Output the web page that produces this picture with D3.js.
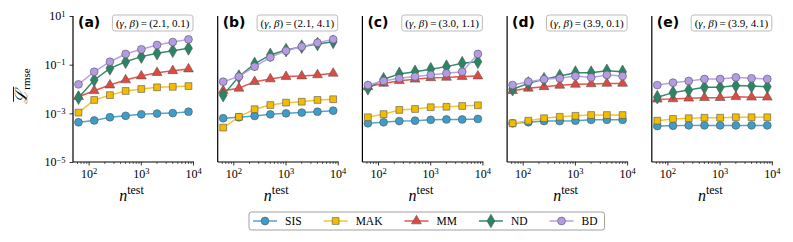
<!DOCTYPE html>
<html>
<head>
<meta charset="utf-8">
<script src="https://cdn.jsdelivr.net/npm/d3@7"></script>
<style>
  body { margin: 0; background: #fff; }
  svg { display: block; }
</style>
</head>
<body>
<div id="chart"></div>
<script>
// sample sizes on the x axis
var nTest = [64, 128, 256, 512, 1024, 2048, 4096, 8192];
var methods = ["SIS", "MAK", "MM", "ND", "BD"];
var panelLetters = ["(a)", "(b)", "(c)", "(d)", "(e)"];
var panelGamma = ["2.1", "2.1", "3.0", "3.9", "3.9"];
var panelBeta = ["0.1", "4.1", "1.1", "0.1", "4.1"];
var xTicks = [100, 1000, 10000];
var yTicks = [1e-5, 1e-3, 1e-1, 10];

// values, one array per method and panel
var sisVals = [
  [4.3e-4, 5.1e-4, 6.9e-4, 7.9e-4, 9.1e-4, 9.8e-4, 1.02e-3, 1.17e-3],
  [6.3e-4, 6.9e-4, 7.8e-4, 9.1e-4, 1.0e-3, 1.07e-3, 1.17e-3, 1.29e-3],
  [3.9e-4, 4.3e-4, 4.8e-4, 5.0e-4, 5.4e-4, 5.6e-4, 5.6e-4, 5.9e-4],
  [3.9e-4, 4.3e-4, 4.8e-4, 4.8e-4, 5.0e-4, 5.4e-4, 5.4e-4, 5.4e-4],
  [3.0e-4, 3.1e-4, 3.2e-4, 3.2e-4, 3.2e-4, 3.2e-4, 3.2e-4, 3.2e-4]
];
var makVals = [
  [1.07e-3, 3.55e-3, 5.6e-3, 8.3e-3, 1.0e-2, 1.17e-2, 1.23e-2, 1.32e-2],
  [2.6e-4, 7.2e-4, 1.48e-3, 2.19e-3, 2.75e-3, 3.0e-3, 3.55e-3, 3.8e-3],
  [6.9e-4, 9.3e-4, 1.38e-3, 1.51e-3, 1.78e-3, 1.86e-3, 2.0e-3, 2.14e-3],
  [3.9e-4, 5.0e-4, 6.3e-4, 7.2e-4, 7.9e-4, 8.5e-4, 8.5e-4, 8.5e-4],
  [5.0e-4, 5.9e-4, 6.3e-4, 6.6e-4, 6.6e-4, 6.9e-4, 6.9e-4, 6.9e-4]
];
var mmVals = [
  [4.8e-3, 8.5e-3, 1.45e-2, 2.34e-2, 3.4e-2, 4.7e-2, 5.6e-2, 6.6e-2],
  [8.5e-3, 1.07e-2, 2.0e-2, 2.57e-2, 3.24e-2, 3.4e-2, 3.8e-2, 4.4e-2],
  [1.23e-2, 1.7e-2, 2.19e-2, 2.51e-2, 2.88e-2, 3.0e-2, 3.24e-2, 3.4e-2],
  [8.5e-3, 1.07e-2, 1.23e-2, 1.41e-2, 1.55e-2, 1.62e-2, 1.7e-2, 1.7e-2],
  [3.8e-3, 3.9e-3, 4.17e-3, 4.4e-3, 4.4e-3, 4.8e-3, 4.6e-3, 4.6e-3]
];
var ndVals = [
  [4.4e-3, 2.34e-2, 7.1e-2, 0.132, 0.214, 0.295, 0.372, 0.468],
  [5.6e-3, 3.24e-2, 0.107, 0.251, 0.398, 0.55, 0.708, 0.871],
  [1.07e-2, 2.51e-2, 4.17e-2, 5.1e-2, 6.5e-2, 8.3e-2, 0.115, 0.132],
  [9.8e-3, 1.7e-2, 2.51e-2, 3.4e-2, 4.7e-2, 4.7e-2, 5.6e-2, 5.1e-2],
  [4.6e-3, 7.1e-3, 9.1e-3, 1.17e-2, 1.17e-2, 1.38e-2, 1.32e-2, 1.23e-2]
];
var bdVals = [
  [1.55e-2, 5.1e-2, 0.132, 0.275, 0.427, 0.646, 0.851, 1.096],
  [2.0e-2, 3.24e-2, 8.3e-2, 0.2, 0.372, 0.55, 0.794, 1.096],
  [1.45e-2, 2.14e-2, 2.75e-2, 3.24e-2, 3.8e-2, 4.4e-2, 5.1e-2, 0.275],
  [1.45e-2, 2.0e-2, 2.51e-2, 2.75e-2, 3.4e-2, 3.0e-2, 3.8e-2, 3.4e-2],
  [1.45e-2, 1.82e-2, 2.14e-2, 2.57e-2, 2.57e-2, 3.0e-2, 2.75e-2, 2.57e-2]
];

var seriesVals = [sisVals, makVals, mmVals, ndVals, bdVals];
var lineColors = ["#4ea6d2", "#f5c431", "#e8554e", "#2f8c6e", "#b9a0ea"];
var fillColors = ["#3d9cc9", "#f2bd00", "#de4a40", "#2a8565", "#b49be6"];
var symbols = [d3.symbolCircle, d3.symbolSquare, d3.symbolTriangle, d3.symbolDiamond, d3.symbolCircle];
var symSizes = [48, 46, 42, 54, 48];

var W = 793, H = 242;
var plotW = 121, plotTop = 16, plotBottom = 162;
var panelStep = 144.7, firstLeft = 73;

var svg = d3.select("#chart").append("svg")
    .attr("width", W).attr("height", H);

var x = d3.scaleLog().domain([Math.pow(10, 1.701), Math.pow(10, 4.019)]).range([0, plotW]);
var y = d3.scaleLog().domain([1e-5, 10]).range([plotBottom, plotTop]);

var serif = "'Liberation Serif', 'DejaVu Serif', serif";

function supLabel(sel, exp) {
  sel.text(null);
  sel.append("tspan").text("10");
  sel.append("tspan").attr("dy", "-0.45em").attr("font-size", "8.5px").text(exp);
}

var minorX = [];
[10, 100, 1000].forEach(function(d) {
  for (var k = 2; k <= 9; k++) minorX.push(d * k);
});
minorX = minorX.filter(function(v) { return v >= x.domain()[0] && v <= x.domain()[1]; });

panelLetters.forEach(function(letter, p) {
  var g = svg.append("g")
      .attr("transform", "translate(" + (firstLeft + p * panelStep) + ",0)");

  // minor x ticks
  g.append("g")
      .attr("transform", "translate(0," + plotBottom + ")")
      .call(d3.axisBottom(x).tickValues(minorX).tickSize(2).tickFormat(""))
      .call(function(a) { a.select(".domain").remove(); })
      .selectAll("line").attr("stroke-width", 0.6);

  var xa = g.append("g")
      .attr("transform", "translate(0," + plotBottom + ")")
      .call(d3.axisBottom(x).tickValues(xTicks).tickSize(3.5).tickPadding(4));
  xa.select(".domain").remove();
  xa.selectAll("line").attr("stroke-width", 0.8);
  xa.selectAll("text")
      .attr("font-family", serif).attr("font-size", "12px")
      .each(function(d) { supLabel(d3.select(this), Math.round(Math.log10(d))); });

  // spines
  g.append("line").attr("x1", 0).attr("x2", plotW).attr("y1", plotBottom).attr("y2", plotBottom)
      .attr("stroke", "#000").attr("stroke-width", 1.2);
  g.append("line").attr("x1", 0).attr("x2", 0).attr("y1", plotTop).attr("y2", plotBottom)
      .attr("stroke", "#000").attr("stroke-width", 1.2);

  if (p === 0) {
    var ya = g.append("g")
        .call(d3.axisLeft(y).tickValues(yTicks).tickSize(3.5).tickPadding(4));
    ya.select(".domain").remove();
    ya.selectAll("line").attr("stroke-width", 0.8);
    ya.selectAll("text")
        .attr("font-family", serif).attr("font-size", "12px")
        .each(function(d) {
          var e = Math.round(Math.log10(d));
          supLabel(d3.select(this), e < 0 ? "\u2212" + (-e) : e);
        });
  }

  // series
  seriesVals.forEach(function(vals, s) {
    var pts = nTest.map(function(n, i) { return [n, vals[p][i]]; });
    var sg = g.append("g");
    sg.append("path")
        .attr("d", d3.line().x(function(d) { return x(d[0]); }).y(function(d) { return y(d[1]); })(pts))
        .attr("fill", "none")
        .attr("stroke", lineColors[s])
        .attr("stroke-width", 1.5);
    sg.selectAll("path.m").data(pts).enter().append("path")
        .attr("class", "m")
        .attr("transform", function(d) { return "translate(" + x(d[0]) + "," + y(d[1]) + ")"; })
        .attr("d", d3.symbol().type(symbols[s]).size(symSizes[s]))
        .attr("fill", fillColors[s])
        .attr("stroke", "#555")
        .attr("stroke-width", 0.6);
  });

  // panel letter
  g.append("text")
      .attr("x", 5).attr("y", 27)
      .attr("font-family", "'DejaVu Sans', sans-serif")
      .attr("font-weight", "bold").attr("font-size", "14px")
      .text(letter);

  // parameter box
  var ann = g.append("text")
      .attr("y", 27)
      .attr("font-family", serif).attr("font-size", "11px");
  ann.append("tspan").text("(");
  ann.append("tspan").attr("font-style", "italic").text("\u03b3");
  ann.append("tspan").text(", ");
  ann.append("tspan").attr("font-style", "italic").text("\u03b2");
  ann.append("tspan").text(")\u2009=\u2009(" + panelGamma[p] + ", " + panelBeta[p] + ")");
  var tw = ann.node().getComputedTextLength();
  var boxRight = plotW - 1;
  ann.attr("x", boxRight - 3.5 - tw);
  g.insert("rect", function() { return ann.node(); })
      .attr("x", boxRight - tw - 7).attr("y", 15)
      .attr("width", tw + 7).attr("height", 16)
      .attr("rx", 2.5)
      .attr("fill", "#fff").attr("stroke", "#aaa").attr("stroke-width", 0.8);

  // x label
  var xl = g.append("text")
      .attr("x", plotW / 2 - 2).attr("y", 201)
      .attr("text-anchor", "middle")
      .attr("font-family", serif).attr("font-size", "16px");
  xl.append("tspan").attr("font-style", "italic").text("n");
  xl.append("tspan").attr("dy", "-0.55em").attr("font-size", "12px").text("test");
});

// y label
var yl = svg.append("g").attr("transform", "translate(27,86) rotate(-90)");
var ylt = yl.append("text")
    .attr("text-anchor", "middle")
    .attr("font-family", serif).attr("font-size", "17px");
ylt.append("tspan").attr("class", "L").attr("font-style", "italic").text("\u2112");
ylt.append("tspan").attr("dy", "0.3em").attr("font-size", "11px").text("rmse");
var lb = ylt.select(".L").node().getBBox();
yl.append("line")
    .attr("x1", lb.x + 2).attr("x2", lb.x + lb.width)
    .attr("y1", lb.y + 1.5).attr("y2", lb.y + 1.5)
    .attr("stroke", "#000").attr("stroke-width", 0.9);

// legend
var leg = svg.append("g");
var legLeft = 249, legTop = 212, legH = 18;
var cx = legLeft + 4;
methods.forEach(function(m, s) {
  var it = leg.append("g");
  it.append("line")
      .attr("x1", cx).attr("x2", cx + 24).attr("y1", legTop + legH / 2).attr("y2", legTop + legH / 2)
      .attr("stroke", lineColors[s]).attr("stroke-width", 1.5);
  it.append("path")
      .attr("transform", "translate(" + (cx + 12) + "," + (legTop + legH / 2) + ")")
      .attr("d", d3.symbol().type(symbols[s]).size(symSizes[s]))
      .attr("fill", fillColors[s]).attr("stroke", "#555").attr("stroke-width", 0.6);
  var t = it.append("text")
      .attr("x", cx + 32).attr("y", legTop + legH / 2 + 4)
      .attr("font-family", serif).attr("font-size", "11.5px")
      .text(m);
  cx += 32 + t.node().getComputedTextLength() + 22;
});
leg.insert("rect", ":first-child")
    .attr("x", legLeft).attr("y", legTop)
    .attr("width", cx - 22 + 7 - legLeft).attr("height", legH)
    .attr("rx", 2.5)
    .attr("fill", "#fff").attr("stroke", "#888").attr("stroke-width", 0.8);
</script>
</body>
</html>
